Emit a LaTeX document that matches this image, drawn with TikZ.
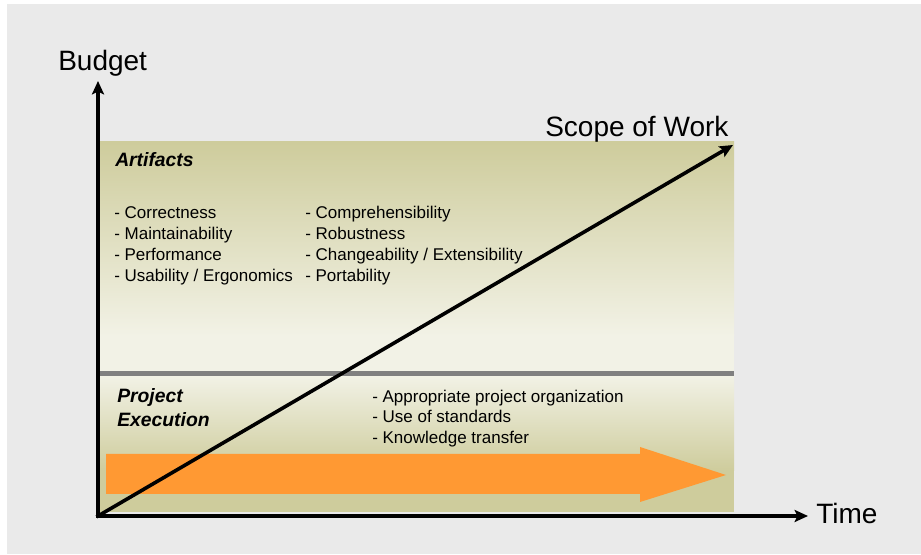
\documentclass[tikz,border=0pt]{standalone}
\usepackage{fontspec}
\setmainfont{Liberation Sans}
\usetikzlibrary{arrows.meta}
\definecolor{bggray}{RGB}{234,234,234}
\definecolor{boxdark}{RGB}{206,204,156}
\definecolor{boxlight}{RGB}{242,242,230}
\definecolor{sepgray}{RGB}{128,128,128}
\definecolor{arroworange}{RGB}{255,153,51}

\begin{document}
\begin{tikzpicture}[x=0.75pt,y=-0.75pt,
    big/.style={inner sep=0pt,anchor=base west,font=\fontsize{21}{25}\selectfont},
    head/.style={inner sep=0pt,anchor=base west,font=\fontsize{14.5}{18}\selectfont\bfseries\itshape},
    item/.style={inner sep=0pt,anchor=base west,font=\fontsize{12.75}{15}\selectfont},
    axis/.style={line width=2.7pt,line cap=rect,-{Stealth[length=10pt,width=9pt,inset=2pt]}}]
    \useasboundingbox (0,0) rectangle (921,555);
    \fill[white] (0,0) rectangle (921,555);
    \fill[bggray] (7,4) rectangle (921,554);
    % the two boxes
    \shade[top color=boxdark,bottom color=boxlight] (100,142) rectangle (734,336);
    \fill[boxlight] (100,335) rectangle (734,373);
    \shade[top color=boxlight,bottom color=boxdark] (100,375) rectangle (734,471);
    \fill[boxdark] (100,470) rectangle (734,512);
    \draw[line width=3.75pt,sepgray] (100,374) -- (734,374);
    \fill[arroworange] (106,454) -- (640,454) -- (640,447) -- (726,475)
      -- (640,502) -- (640,494) -- (106,494) -- cycle;
    % axes
    \coordinate (origin) at (98,516);
    \coordinate (ytip) at (98,81);
    \coordinate (xtip) at (808,516);
    \coordinate (stip) at (733,145);
    \draw[axis] (origin) -- (ytip);
    \draw[axis] (origin) -- (xtip);
    \draw[axis] (origin) -- (stip);
    \node[big] (budget) at (58,71) {Budget};
    \node[big] (scope) at (545,137) {Scope of Work};
    \node[big] (time) at (816,524) {Time};
    % texts
    \node[head] (artifacts) at (115,167) {Artifacts};
    \foreach \txt [count=\i from 0] in {Correctness,Maintainability,Performance,Usability / Ergonomics}
    {
      \node[item] (qa\i) at (114,219+20.7*\i) {- \txt};
    }
    \foreach \txt [count=\i from 0] in {Comprehensibility,Robustness,Changeability / Extensibility,Portability}
    {
      \node[item] (qb\i) at (305,219+20.7*\i) {- \txt};
    }
    \node[head] (project) at (117,403) {Project};
    \node[head] (execution) at (117,427) {Execution};
    \foreach \txt [count=\i from 0] in {Appropriate project organization,Use of standards,Knowledge transfer}
    {
      \node[item] (pe\i) at (372,402.5+20.5*\i) {- \txt};
    }
\end{tikzpicture}
\end{document}
